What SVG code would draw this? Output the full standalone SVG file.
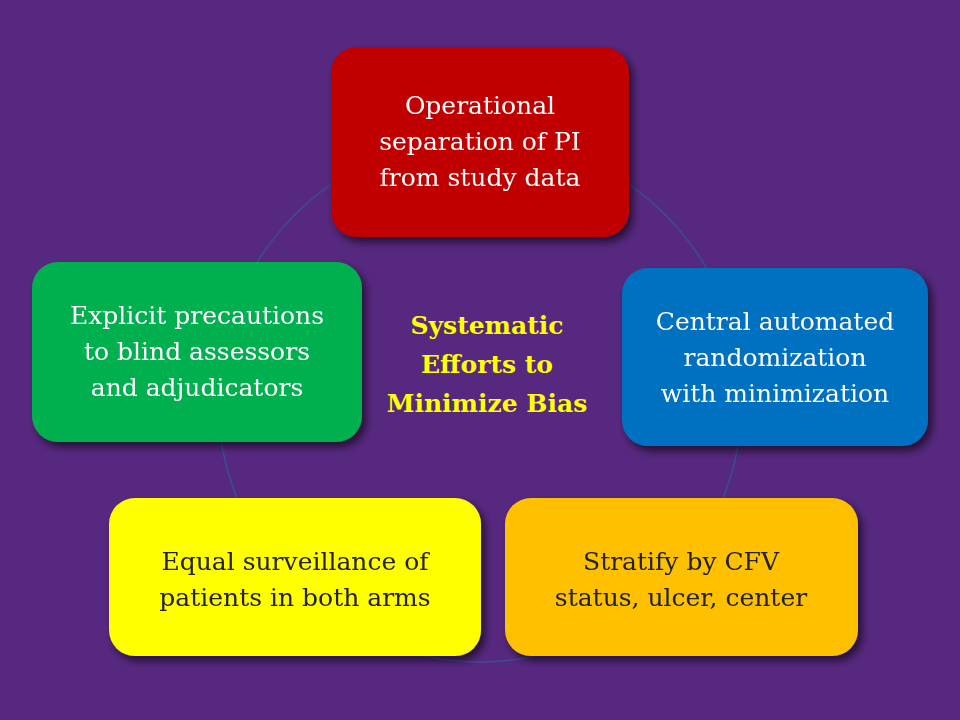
<svg xmlns="http://www.w3.org/2000/svg" width="960" height="720" viewBox="0 0 960 720">
<defs>
<filter id="sh" x="-10%" y="-10%" width="130%" height="130%"><feDropShadow dx="4" dy="5" stdDeviation="4" flood-color="#000" flood-opacity="0.6"/></filter>
<style>
.n{filter:url(#sh)}
.t{font-family:"DejaVu Serif","Liberation Serif",serif;font-size:25px;text-anchor:middle}
</style>
</defs>
<rect width="960" height="720" fill="#57287f"/>
<g id="connectors"><circle cx="480" cy="400" r="262" fill="none" stroke="#3a4f8f" stroke-width="1.5"/></g>
<g id="n1" class="n"><rect x="331" y="47" width="298" height="190" rx="26" fill="#c00000"/>
<text class="t" fill="#fff"><tspan x="480" y="114">Operational</tspan><tspan x="480" y="150">separation of PI</tspan><tspan x="480" y="186">from study data</tspan></text></g>
<g id="n2" class="n"><rect x="622" y="268" width="306" height="178" rx="26" fill="#0070c0"/>
<text class="t" fill="#fff"><tspan x="775" y="330">Central automated</tspan><tspan x="775" y="366">randomization</tspan><tspan x="775" y="402">with minimization</tspan></text></g>
<g id="n3" class="n"><rect x="505" y="498" width="353" height="158" rx="26" fill="#ffc000"/>
<text class="t" fill="#222"><tspan x="681" y="570">Stratify by CFV</tspan><tspan x="681" y="606">status, ulcer, center</tspan></text></g>
<g id="n4" class="n"><rect x="109" y="498" width="372" height="158" rx="26" fill="#ffff00"/>
<text class="t" fill="#222"><tspan x="295" y="570">Equal surveillance of</tspan><tspan x="295" y="606">patients in both arms</tspan></text></g>
<g id="n5" class="n"><rect x="32" y="262" width="330" height="180" rx="26" fill="#00b050"/>
<text class="t" fill="#fff"><tspan x="197" y="324">Explicit precautions</tspan><tspan x="197" y="360">to blind assessors</tspan><tspan x="197" y="396">and adjudicators</tspan></text></g>
<g id="center"><text class="t" fill="#ffff00" font-weight="bold" font-size="23"><tspan x="487" y="334">Systematic</tspan><tspan x="487" y="373">Efforts to</tspan><tspan x="487" y="412">Minimize Bias</tspan></text></g>
</svg>
